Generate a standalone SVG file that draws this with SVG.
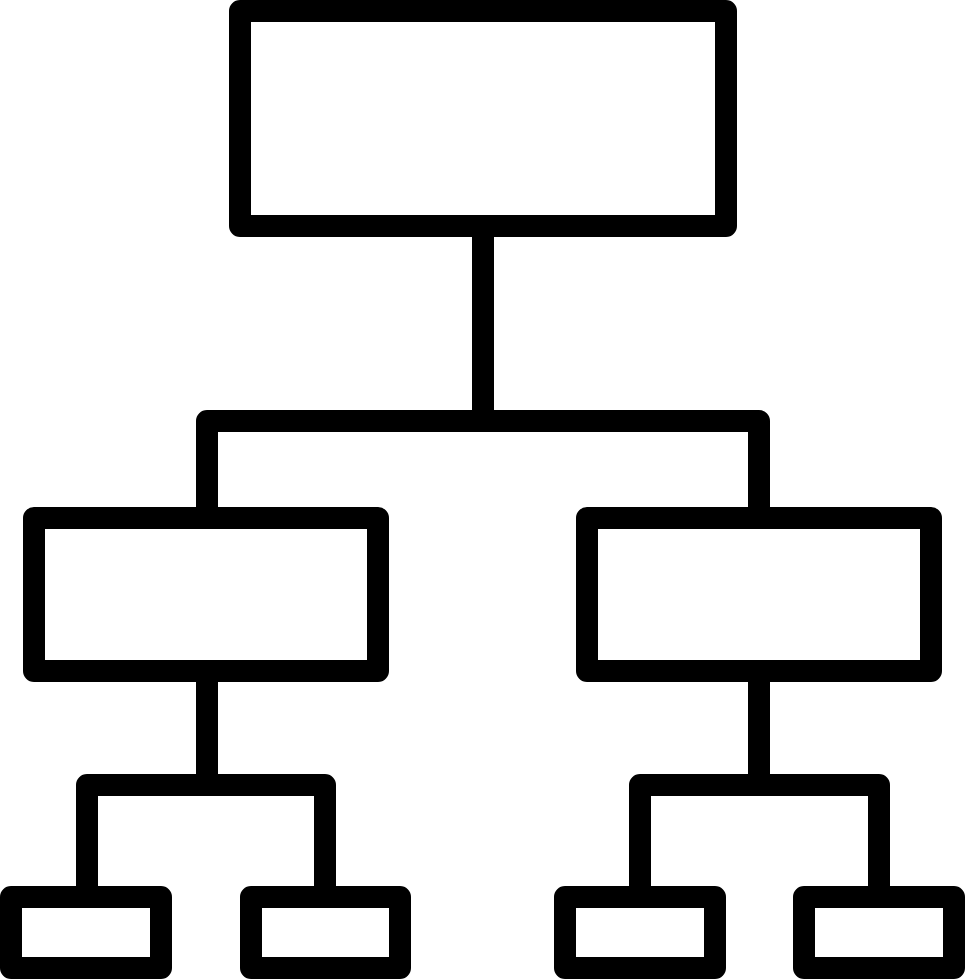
<svg xmlns="http://www.w3.org/2000/svg" width="966" height="980" viewBox="0 0 966 980">
<style>
.n{fill:none;stroke:#000;stroke-width:22;stroke-linejoin:round}
.c{fill:none;stroke:#000;stroke-width:22;stroke-linejoin:round;stroke-linecap:butt}
</style>
<rect width="966" height="980" fill="#fff"/>
<g id="connectors">
<path class="c" d="M483 226V421"/>
<path class="c" d="M207 518V421H759V518"/>
<path class="c" d="M207 671V785"/>
<path class="c" d="M87 897V785H325V897"/>
<path class="c" d="M759 671V785"/>
<path class="c" d="M640 897V785H879V897"/>
</g>
<g id="root"><rect class="n" x="240" y="11" width="486" height="215"/></g>
<g id="midLeft"><rect class="n" x="34" y="518" width="344" height="153"/></g>
<g id="midRight"><rect class="n" x="587" y="518" width="344" height="153"/></g>
<g id="leaf1"><rect class="n" x="11" y="897" width="150" height="71"/></g>
<g id="leaf2"><rect class="n" x="251" y="897" width="149" height="71"/></g>
<g id="leaf3"><rect class="n" x="565" y="897" width="150" height="71"/></g>
<g id="leaf4"><rect class="n" x="804" y="897" width="150" height="71"/></g>
</svg>
